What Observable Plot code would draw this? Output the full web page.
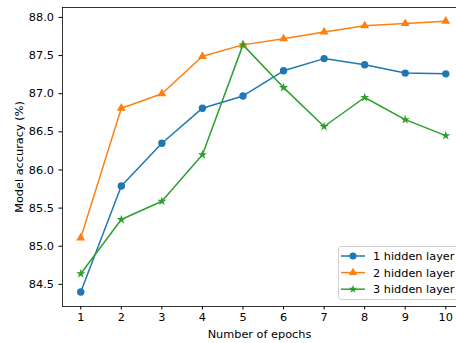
<!DOCTYPE html>
<html><head><meta charset="utf-8">
<script src="https://cdn.jsdelivr.net/npm/d3@7"></script>
<script src="https://cdn.jsdelivr.net/npm/@observablehq/plot@0.6"></script>
<style>
body{margin:0;background:#fff;}
#wrap{position:relative;width:456px;height:343px;overflow:hidden;font-family:"DejaVu Sans",sans-serif;}
#legend{position:absolute;left:338px;top:246px;width:130px;height:54px;box-sizing:border-box;border:1px solid #d0d0d0;border-radius:3px;background:rgba(255,255,255,0.85);}
</style>
</head><body>
<div id="wrap"></div>
<script>
const epochs = [1, 2, 3, 4, 5, 6, 7, 8, 9, 10];
const oneHidden = [84.40, 85.79, 86.35, 86.81, 86.97, 87.30, 87.46, 87.38, 87.27, 87.26];
const twoHidden = [85.11, 86.81, 87.00, 87.49, 87.64, 87.72, 87.81, 87.89, 87.92, 87.95];
const threeHidden = [84.64, 85.35, 85.59, 86.20, 87.64, 87.08, 86.57, 86.95, 86.66, 86.45];
const seriesNames = ["1 hidden layer", "2 hidden layer", "3 hidden layer"];
const seriesColors = ["#1f77b4", "#ff7f0e", "#2ca02c"];
const seriesSymbols = ["circle", "triangle", "star"];
const yTicks = [84.5, 85.0, 85.5, 86.0, 86.5, 87.0, 87.5, 88.0];
const xLabel = "Number of epochs";
const yLabel = "Model accuracy (%)";

const allSeries = [oneHidden, twoHidden, threeHidden];
const data = [];
allSeries.forEach((vals, i) => vals.forEach((v, j) => data.push({epoch: epochs[j], acc: v, series: seriesNames[i]})));

const xDom = [0.55, 10.264];
const yDom = [84.21, 88.13];
const markerR = {circle: 3.7, triangle: 3.3, star: 2.9};

const chart = Plot.plot({
  width: 456, height: 343,
  marginLeft: 62, marginTop: 7, marginBottom: 37, marginRight: 0,
  style: {fontFamily: "DejaVu Sans", fontSize: "11.3px", color: "#000", background: "white", overflow: "visible"},
  x: {domain: xDom},
  y: {domain: yDom},
  color: {domain: seriesNames, range: seriesColors},
  symbol: {domain: seriesNames, range: seriesSymbols},
  marks: [
    Plot.axisX({ticks: epochs, tickFormat: d => String(d), tickSize: 3.5, tickPadding: 3, label: xLabel, labelAnchor: "center", labelArrow: "none", labelOffset: 31, stroke: "#000", strokeOpacity: 1}),
    Plot.axisY({ticks: yTicks, tickFormat: d => d.toFixed(1), tickSize: 3.5, tickPadding: 5, label: yLabel, labelAnchor: "center", labelArrow: "none", labelOffset: 48, stroke: "#000", strokeOpacity: 1}),
    Plot.line(data, {x: "epoch", y: "acc", z: "series", stroke: "series", strokeWidth: 1.5}),
    ...seriesNames.map((name, i) => Plot.dot(data, {filter: d => d.series === name, x: "epoch", y: "acc", fill: "series", symbol: "series", r: markerR[seriesSymbols[i]], stroke: null})),
    Plot.ruleX([xDom[0]], {stroke: "#000", strokeWidth: 0.8}),
    Plot.ruleY([yDom[0], yDom[1]], {stroke: "#000", strokeWidth: 0.8})
  ]
});
const wrap = document.getElementById("wrap");
wrap.appendChild(chart);

// legend
const leg = document.createElement("div");
leg.id = "legend";
const ns = "http://www.w3.org/2000/svg";
const ls = document.createElementNS(ns, "svg");
ls.setAttribute("width", 130); ls.setAttribute("height", 54);
ls.style.position = "absolute"; ls.style.left = "-1px"; ls.style.top = "-1px";
const symMap = {circle: d3.symbolCircle, triangle: d3.symbolTriangle, star: d3.symbolStar};
const symArea = {circle: 40, triangle: 30, star: 22};
seriesNames.forEach((name, i) => {
  const cy = 10 + i * 16.6;
  const line = document.createElementNS(ns, "line");
  line.setAttribute("x1", 3); line.setAttribute("x2", 27);
  line.setAttribute("y1", cy); line.setAttribute("y2", cy);
  line.setAttribute("stroke", seriesColors[i]); line.setAttribute("stroke-width", 1.5);
  ls.appendChild(line);
  const p = document.createElementNS(ns, "path");
  p.setAttribute("d", d3.symbol(symMap[seriesSymbols[i]], symArea[seriesSymbols[i]])());
  p.setAttribute("transform", `translate(15,${cy})`);
  p.setAttribute("fill", seriesColors[i]);
  ls.appendChild(p);
  const t = document.createElementNS(ns, "text");
  t.setAttribute("x", 35); t.setAttribute("y", cy);
  t.setAttribute("dy", "0.35em");
  t.setAttribute("font-size", "11.3px");
  t.setAttribute("font-family", "DejaVu Sans");
  t.textContent = name;
  ls.appendChild(t);
});
leg.appendChild(ls);
wrap.appendChild(leg);
</script>
</body></html>
